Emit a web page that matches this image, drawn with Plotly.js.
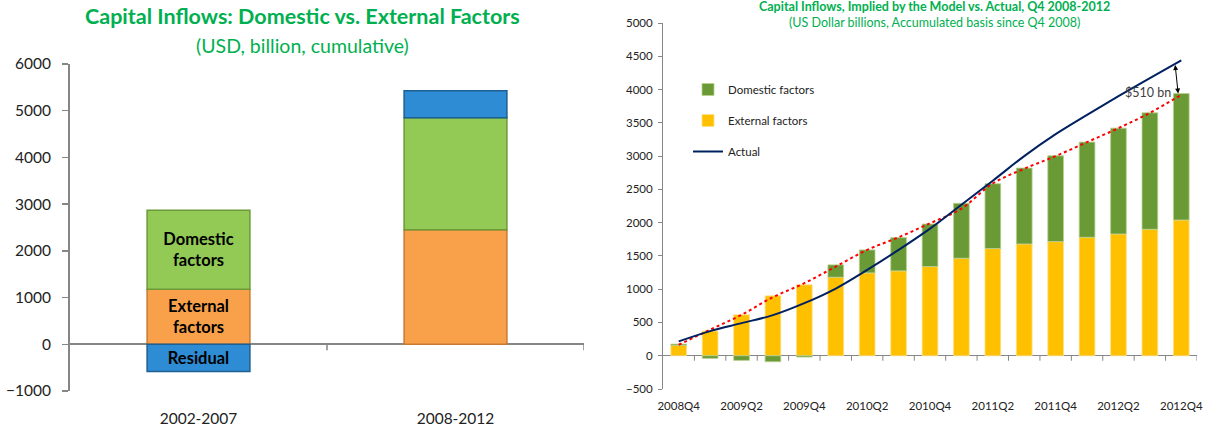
<!DOCTYPE html>
<html>
<head>
<meta charset="utf-8">
<script src="https://cdn.plot.ly/plotly-3.0.1.min.js"></script>
<style>
  html, body { margin: 0; padding: 0; background: #ffffff; }
  #chart { width: 1207px; height: 431px; }
</style>
</head>
<body>
<div id="chart"></div>
<script>
// ---------- Left chart data (USD billion, cumulative) ----------
const periods = ["2002-2007", "2008-2012"];
const periodExternal = [1180, 2450];
const periodDomestic = [1690, 2400];
const periodResidual = [-580, 580];
const periodTextDomestic = ["Domestic<br>factors", ""];
const periodTextExternal = ["External<br>factors", ""];
const periodTextResidual = ["Residual", ""];

// ---------- Right chart data (US$ bn, accumulated since Q4 2008) ----------
const quarters = ["2008Q4","2009Q1","2009Q2","2009Q3","2009Q4","2010Q1","2010Q2","2010Q3","2010Q4",
                  "2011Q1","2011Q2","2011Q3","2011Q4","2012Q1","2012Q2","2012Q3","2012Q4"];
const quarterTickText = ["2008Q4","","2009Q2","","2009Q4","","2010Q2","","2010Q4",
                         "","2011Q2","","2011Q4","","2012Q2","","2012Q4"];
const externalFactors = [155, 370, 615, 900, 1065, 1180, 1245, 1275, 1340, 1465, 1610, 1680, 1715, 1780, 1830, 1900, 2040];
const domesticFactors = [20, -40, -70, -90, -20, 185, 345, 500, 640, 825, 975, 1140, 1290, 1430, 1590, 1750, 1900];
const actualInflows   = [215, 370, 490, 610, 790, 1010, 1290, 1590, 1910, 2270, 2630, 3000, 3330, 3620, 3900, 4170, 4440];
const trendInflows    = [165, 390, 615, 880, 1090, 1340, 1590, 1780, 1990, 2210, 2590, 2810, 3000, 3210, 3420, 3650, 3920];
const gapLabel = "$510 bn";

// ---------- Styling ----------
const FONT = "Lato, 'Noto Sans', 'DejaVu Sans', sans-serif";
const GREEN_TITLE = "#00B050";
const AXIS_GRAY = "#868686";
const W = 1207, H = 431;

// plot-area pixel boxes
const L = {x0: 70, x1: 584, top: 64, bottom: 391};
const R = {x0: 663, x1: 1197, top: 23, bottom: 389};
const px = v => v / W;
const py = v => 1 - v / H;

const textFontBold = {family: FONT, size: 16.5, color: "#000000", weight: 700};

const traces = [
  // left chart
  {type: "bar", x: periods, y: periodExternal, xaxis: "x", yaxis: "y", width: 0.4,
   name: "External (period)", showlegend: false,
   marker: {color: "#F9A04A", line: {color: "#C87A30", width: 1.5}},
   text: periodTextExternal, textposition: "inside", insidetextanchor: "middle",
   textangle: 0, constraintext: "none", textfont: textFontBold, hoverinfo: "skip"},
  {type: "bar", x: periods, y: periodDomestic, xaxis: "x", yaxis: "y", width: 0.4,
   name: "Domestic (period)", showlegend: false,
   marker: {color: "#93C955", line: {color: "#6C9A38", width: 1.5}},
   text: periodTextDomestic, textposition: "inside", insidetextanchor: "middle",
   textangle: 0, constraintext: "none", textfont: textFontBold, hoverinfo: "skip"},
  {type: "bar", x: periods, y: periodResidual, xaxis: "x", yaxis: "y", width: 0.4,
   name: "Residual (period)", showlegend: false,
   marker: {color: "#2E8CD4", line: {color: "#1D5F92", width: 1.5}},
   text: periodTextResidual, textposition: "inside", insidetextanchor: "middle",
   textangle: 0, constraintext: "none", textfont: textFontBold, hoverinfo: "skip"},

  // right chart
  {type: "bar", x: quarters, y: externalFactors, xaxis: "x2", yaxis: "y2", width: 0.5,
   name: "External factors", legendgroup: "ext", legendrank: 2,
   marker: {color: "#FFC000", line: {color: "#FFE08A", width: 0.8}}},
  {type: "bar", x: quarters, y: domesticFactors, xaxis: "x2", yaxis: "y2", width: 0.5,
   name: "Domestic factors", legendgroup: "dom", legendrank: 1,
   marker: {color: "#6A9A35", line: {color: "#B8D08E", width: 0.8}}},
  {type: "scatter", mode: "lines", x: quarters, y: trendInflows, xaxis: "x2", yaxis: "y2",
   name: "Trend", showlegend: false,
   line: {color: "#FF0000", width: 2, dash: "dot", shape: "spline"}},
  {type: "scatter", mode: "lines", x: quarters, y: actualInflows, xaxis: "x2", yaxis: "y2",
   name: "Actual", legendgroup: "act", legendrank: 3,
   line: {color: "#002060", width: 2, shape: "spline"}}
];

// boundary tick marks hanging below the zero line
const shapes = [];
[0.5, 1.5].forEach(b => shapes.push({
  type: "line", xref: "x", yref: "y", x0: b, x1: b, ysizemode: "pixel", yanchor: 0, y0: 0, y1: -6,
  line: {color: AXIS_GRAY, width: 1.5}
}));
quarters.forEach((q, i) => shapes.push({
  type: "line", xref: "x2", yref: "y2", x0: i + 0.5, x1: i + 0.5, ysizemode: "pixel", yanchor: 0, y0: 0, y1: -5,
  line: {color: AXIS_GRAY, width: 1}
}));

const last = quarters.length - 1;
const lastTotal = externalFactors[last] + domesticFactors[last];

const annotations = [
  {xref: "paper", yref: "paper", x: px(302), y: py(16), xanchor: "center", yanchor: "middle",
   showarrow: false, text: "<b>Capital Inflows: Domestic vs. External Factors</b>",
   font: {family: FONT, size: 21.5, color: GREEN_TITLE}},
  {xref: "paper", yref: "paper", x: px(302), y: py(45), xanchor: "center", yanchor: "middle",
   showarrow: false, text: "(USD, billion, cumulative)",
   font: {family: FONT, size: 19.5, color: GREEN_TITLE}},
  {xref: "paper", yref: "paper", x: px(934), y: py(6.5), xanchor: "center", yanchor: "middle",
   showarrow: false, text: "<b>Capital Inflows, Implied by the Model vs. Actual, Q4 2008-2012</b>",
   font: {family: FONT, size: 12.5, color: GREEN_TITLE}},
  {xref: "paper", yref: "paper", x: px(934), y: py(22.5), xanchor: "center", yanchor: "middle",
   showarrow: false, text: "(US Dollar billions, Accumulated basis since Q4 2008)",
   font: {family: FONT, size: 12.5, color: GREEN_TITLE}},
  {xref: "x2", yref: "y2", x: last - 0.26, y: lastTotal + 10, xanchor: "right", yanchor: "middle",
   showarrow: false, text: gapLabel, font: {family: FONT, size: 12.5, color: "#404040"}},
  {xref: "x2", yref: "y2", x: last - 0.1, y: lastTotal, axref: "x2", ayref: "y2",
   ax: last - 0.2, ay: actualInflows[last] - 50, text: "", showarrow: true,
   arrowside: "end+start", arrowhead: 2, startarrowhead: 2, arrowsize: 1, startarrowsize: 1,
   arrowwidth: 1, arrowcolor: "#000000"}
];

const layout = {
  width: W, height: H,
  margin: {l: 0, r: 0, t: 0, b: 0},
  paper_bgcolor: "#ffffff", plot_bgcolor: "rgba(0,0,0,0)",
  font: {family: FONT, color: "#222222"},
  barmode: "relative",
  showlegend: true,
  legend: {
    x: px(688), y: py(75), xanchor: "left", yanchor: "top",
    traceorder: "grouped", tracegroupgap: 12,
    font: {family: FONT, size: 11.5, color: "#222222"},
    bgcolor: "rgba(0,0,0,0)", itemwidth: 30
  },
  xaxis: {
    domain: [px(L.x0), px(L.x1)], anchor: "y", type: "category",
    range: [-0.5, 1.5], showline: false, showgrid: false, zeroline: false, ticks: "",
    tickfont: {family: FONT, size: 15.5, color: "#222222"}, ticklabelstandoff: 16
  },
  yaxis: {
    domain: [py(L.bottom), py(L.top)], anchor: "x",
    range: [-1000, 6000], dtick: 1000, tick0: 0,
    showline: true, linecolor: AXIS_GRAY, linewidth: 2,
    ticks: "outside", ticklen: 6, tickcolor: AXIS_GRAY, tickwidth: 1.5,
    showgrid: false, zeroline: true, zerolinecolor: AXIS_GRAY, zerolinewidth: 2,
    tickfont: {family: FONT, size: 15.5, color: "#222222"}, ticklabelstandoff: 8
  },
  xaxis2: {
    domain: [px(R.x0), px(R.x1)], anchor: "y2", type: "category",
    range: [-0.5, quarters.length - 0.5],
    tickmode: "array", tickvals: quarters, ticktext: quarterTickText,
    showline: false, showgrid: false, zeroline: false, ticks: "",
    tickfont: {family: FONT, size: 11.5, color: "#222222"}, ticklabelstandoff: 8
  },
  yaxis2: {
    domain: [py(R.bottom), py(R.top)], anchor: "x2",
    range: [-500, 5000], dtick: 500, tick0: 0,
    showline: true, linecolor: AXIS_GRAY, linewidth: 1,
    ticks: "outside", ticklen: 4, tickcolor: AXIS_GRAY, tickwidth: 1,
    showgrid: false, zeroline: true, zerolinecolor: AXIS_GRAY, zerolinewidth: 1,
    tickfont: {family: FONT, size: 11.5, color: "#222222"}, ticklabelstandoff: 3
  },
  shapes: shapes,
  annotations: annotations
};

Plotly.newPlot("chart", traces, layout, {staticPlot: true, displayModeBar: false});
</script>
</body>
</html>
